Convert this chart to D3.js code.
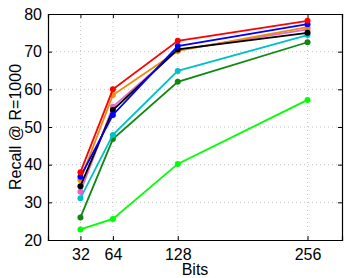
<!DOCTYPE html>
<html>
<head>
<meta charset="utf-8">
<script src="https://d3js.org/d3.v7.min.js"></script>
<style>
  body { margin: 0; background: #fff; }
  text { font-family: "Liberation Sans", Arial, sans-serif; }
</style>
</head>
<body>
<div id="chart"></div>
<script>
const bits = [32, 64, 128, 256];
const yTicks = [20, 30, 40, 50, 60, 70, 80];

// one array per method, drawn bottom to top
const lightGreen = [22.8, 25.6, 40.2, 57.2];
const darkGreen = [26.0, 46.8, 62.0, 72.5];
const cyan = [31.1, 47.9, 64.9, 74.4];
const magenta = [32.8, 55.4, 70.4, 75.9];
const orange = [35.9, 58.5, 70.2, 76.5];
const black = [34.3, 54.5, 70.6, 75.0];
const blue = [36.8, 53.2, 71.5, 77.3];
const red = [38.0, 60.0, 72.9, 78.2];

const series = [
  { values: lightGreen, color: "#00ff00" },
  { values: darkGreen, color: "#108810" },
  { values: cyan, color: "#00c0c8" },
  { values: magenta, color: "#e066c8" },
  { values: orange, color: "#ee8a10" },
  { values: black, color: "#000000" },
  { values: blue, color: "#0000ff" },
  { values: red, color: "#ff0000" }
];

const svgWidth = 346;
const svgHeight = 278;
const margin = { top: 14, right: 4, bottom: 38, left: 48 };
const width = svgWidth - margin.left - margin.right;
const height = svgHeight - margin.top - margin.bottom;

const svg = d3.select("#chart")
  .append("svg")
  .attr("width", svgWidth)
  .attr("height", svgHeight);

const chartGroup = svg.append("g")
  .attr("transform", `translate(${margin.left}, ${margin.top})`);

const x = d3.scaleLinear().domain([0, 290]).range([0, width]);
const y = d3.scaleLinear().domain([20, 80]).range([height, 0]);

// grid
chartGroup.selectAll(".vgrid")
  .data(bits)
  .enter()
  .append("line")
  .attr("x1", d => x(d)).attr("x2", d => x(d))
  .attr("y1", 0).attr("y2", height)
  .attr("stroke", "#c4c4c4")
  .attr("stroke-dasharray", "1,3");

chartGroup.selectAll(".hgrid")
  .data(yTicks.slice(1, -1))
  .enter()
  .append("line")
  .attr("x1", 0).attr("x2", width)
  .attr("y1", d => y(d)).attr("y2", d => y(d))
  .attr("stroke", "#c4c4c4")
  .attr("stroke-dasharray", "1,3");

// axes, ticks pointing inward
const bottomAxis = d3.axisBottom(x).tickValues(bits).tickSize(-4).tickPadding(9);
const leftAxis = d3.axisLeft(y).tickValues(yTicks).tickSize(-4).tickPadding(6);
const topAxis = d3.axisTop(x).tickValues(bits).tickSize(-4).tickFormat("");
const rightAxis = d3.axisRight(y).tickValues(yTicks).tickSize(-4).tickFormat("");

const xAxis = chartGroup.append("g")
  .attr("transform", `translate(0, ${height})`)
  .call(bottomAxis);
const yAxis = chartGroup.append("g").call(leftAxis);
const tAxis = chartGroup.append("g").call(topAxis);
const rAxis = chartGroup.append("g")
  .attr("transform", `translate(${width}, 0)`)
  .call(rightAxis);

[xAxis, yAxis, tAxis, rAxis].forEach(a => {
  a.select(".domain").attr("stroke", "#000").attr("stroke-width", 1.2);
  a.selectAll("line").attr("stroke", "#000");
  a.selectAll("text")
    .attr("fill", "#000")
    .style("font-size", "16px")
    .style("font-family", "'Liberation Sans', Arial, sans-serif");
});

// lines and markers
const line = d3.line()
  .x((d, i) => x(bits[i]))
  .y(d => y(d));

series.forEach(s => {
  chartGroup.append("path")
    .datum(s.values)
    .attr("fill", "none")
    .attr("stroke", s.color)
    .attr("stroke-width", 1.8)
    .attr("d", line);

  chartGroup.selectAll(null)
    .data(s.values)
    .enter()
    .append("circle")
    .attr("cx", (d, i) => x(bits[i]))
    .attr("cy", d => y(d))
    .attr("r", 3)
    .attr("fill", s.color);
});

// labels
svg.append("text")
  .attr("x", margin.left + width / 2)
  .attr("y", 275)
  .attr("text-anchor", "middle")
  .style("font-size", "16px")
  .text("Bits");

svg.append("text")
  .attr("transform", `translate(21, ${margin.top + height / 2}) rotate(-90)`)
  .attr("text-anchor", "middle")
  .style("font-size", "16px")
  .text("Recall @ R=1000");
</script>
</body>
</html>
